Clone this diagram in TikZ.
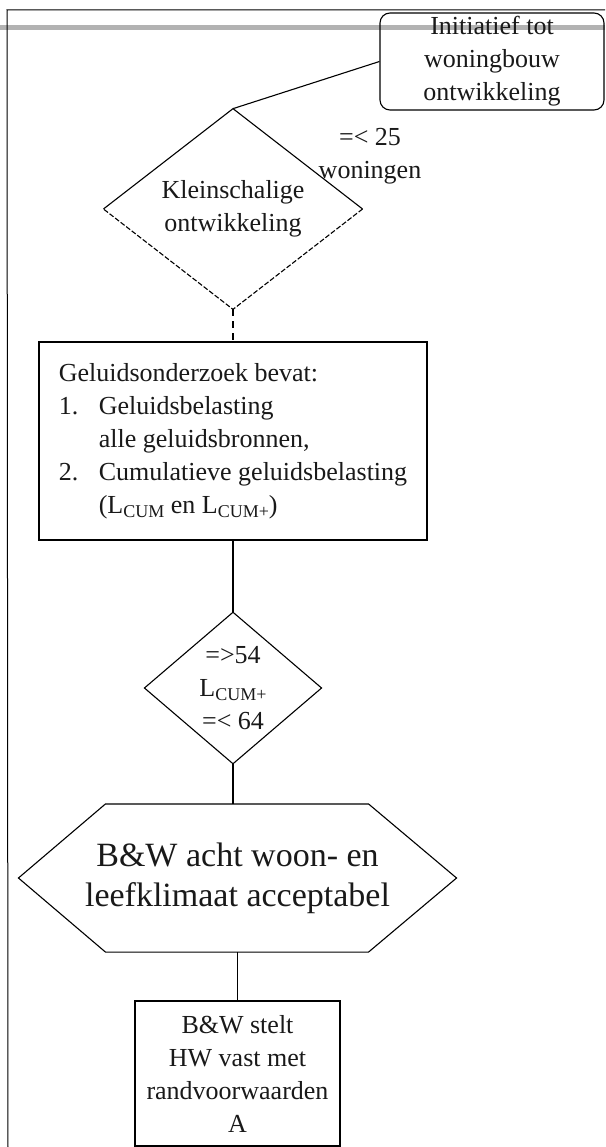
\documentclass[tikz,border=0pt]{standalone}
\usepackage{fontspec}
\setmainfont{Liberation Serif}
\usetikzlibrary{shapes.geometric}
\newcommand{\lsub}[1]{\raisebox{-0.35ex}{\fontsize{18}{18}\selectfont #1}}
\begin{document}
\begin{tikzpicture}[x=1pt,y=-1pt,
  line width=1.1pt,
  txt/.style={font=\fontsize{26}{33}\selectfont, align=center, text=black!90, inner sep=0pt},
  bigtxt/.style={font=\fontsize{34}{40}\selectfont, align=center, text=black!90, inner sep=0pt},
  dia/.style={diamond, draw=none, inner sep=0pt},
  boxshape/.style={rectangle, draw, inner sep=0pt}
]
\useasboundingbox (0,0) rectangle (605,1147);
% scan bar and frame
\draw[line width=5pt, black!30] (0,28) -- (605,28);
\draw[line width=1pt] (8,1147) -- (7,10) -- (605,10);

% nodes
\node[boxshape, rounded corners=10pt, minimum width=224pt, minimum height=97pt, txt] (init) at (492,61.5)
  {Initiatief tot\\woningbouw\\ontwikkeling};
\node[txt] (lab) at (370,156) {=< 25\\woningen};
\node[dia, minimum width=258pt, minimum height=162pt, txt] (d1) at (233,209) {Kleinschalige\\ontwikkeling};
\node[boxshape, minimum width=388pt, minimum height=198pt, txt, align=left] (b2) at (233,441)
  {Geluidsonderzoek bevat:\\
   \makebox[40pt][l]{1.}Geluidsbelasting\\
   \hspace*{40pt}alle geluidsbronnen,\\
   \makebox[40pt][l]{2.}Cumulatieve geluidsbelasting\\
   \hspace*{40pt}(L\lsub{CUM} en L\lsub{CUM+})};
\node[dia, minimum width=176pt, minimum height=131pt, txt] (d2) at (233,688)
  {=>54\\L\lsub{CUM+}\\=< 64};
\node[rectangle, draw=none, minimum width=437pt, minimum height=147pt, bigtxt] (hex) at (237.5,878)
  {B\&W acht woon- en\\leefklimaat acceptabel};
\node[boxshape, minimum width=205pt, minimum height=145pt, txt] (fin) at (237.5,1073.5)
  {B\&W stelt\\HW vast met\\randvoorwaarden\\A};

% shape outlines
\draw (d1.west) -- (d1.north) -- (d1.east);
\draw[dash pattern=on 5pt off 2pt] (d1.east) -- (d1.south) -- (d1.west);
\draw (d2.west) -- (d2.north) -- (d2.east) -- (d2.south) -- cycle;
\draw (hex.west) -- ([xshift=87pt]hex.north west) -- ([xshift=-88pt]hex.north east)
  -- (hex.east) -- ([xshift=-88pt]hex.south east) -- ([xshift=87pt]hex.south west) -- cycle;

% connectors
\draw (init.west) -- (d1.north);
\draw[dash pattern=on 7pt off 5pt] (d1.south) -- (b2.north);
\draw (b2.south) -- (d2.north);
\draw (d2.south) -- (d2.south |- hex.north);
\draw (hex.south) -- (fin.north);
\end{tikzpicture}
\end{document}
